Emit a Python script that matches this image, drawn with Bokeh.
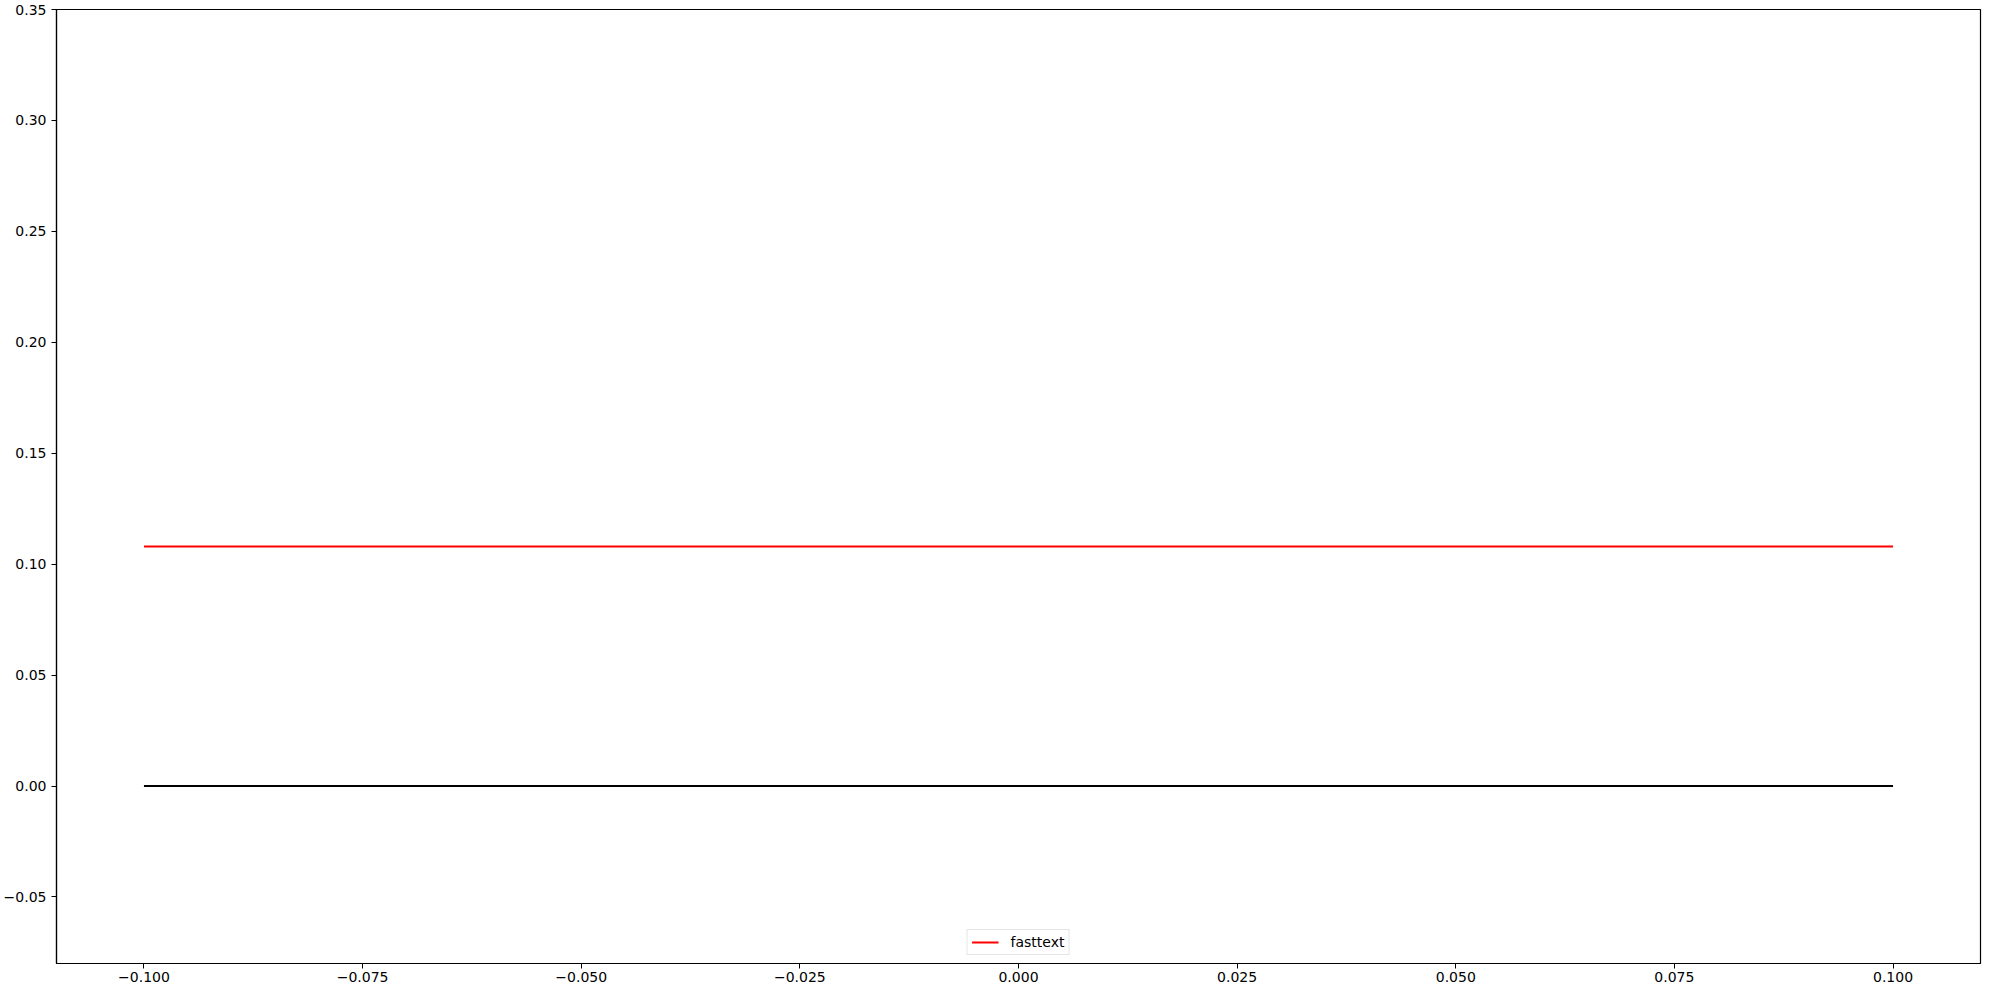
from bokeh.plotting import figure
from bokeh.models import Range1d, FixedTicker, CustomJSTickFormatter, Legend, LegendItem
from bokeh.embed import file_html
from bokeh.resources import INLINE

# data
x_vals = [-0.1, 0.1]
fasttext = [0.108, 0.108]
baseline = [0.0, 0.0]
x_ticks = [-0.1, -0.075, -0.05, -0.025, 0.0, 0.025, 0.05, 0.075, 0.1]
y_ticks = [-0.05, 0.0, 0.05, 0.1, 0.15, 0.2, 0.25, 0.3, 0.35]

FONT = "DejaVu Sans"

p = figure(width=1984, height=984, output_backend="svg", toolbar_location=None,
           x_range=Range1d(-0.11, 0.11), y_range=Range1d(-0.08, 0.35),
           min_border_left=10, min_border_right=4, min_border_top=9, min_border_bottom=4)

p.background_fill_color = "white"
p.border_fill_color = "white"
p.outline_line_color = "black"
p.outline_line_width = 1.2
p.grid.visible = False

r_fast = p.line(x_vals, fasttext, line_color="red", line_width=2)
p.line(x_vals, baseline, line_color="black", line_width=2)

for ax, ticks, digits in ((p.xaxis[0], x_ticks, 3), (p.yaxis[0], y_ticks, 2)):
    ax.ticker = FixedTicker(ticks=ticks, minor_ticks=[])
    ax.formatter = CustomJSTickFormatter(
        code="const v = Math.abs(tick) < 1e-12 ? 0 : tick; return (v < 0 ? '\\u2212' : '') + Math.abs(v).toFixed(%d);" % digits)
    ax.axis_line_color = "black"
    ax.axis_line_width = 1.2
    ax.major_tick_line_color = "black"
    ax.major_tick_in = 0
    ax.major_tick_out = 5
    ax.minor_tick_line_color = None
    ax.major_label_text_font = FONT
    ax.major_label_text_font_size = "14px"
    ax.major_label_text_color = "black"
    ax.major_label_standoff = 5
p.xaxis[0].major_label_standoff = 3

legend = Legend(items=[LegendItem(label="fasttext", renderers=[r_fast])],
                location="bottom_center", orientation="vertical")
legend.label_text_font = FONT
legend.label_text_font_size = "14px"
legend.label_text_color = "black"
legend.glyph_width = 27
legend.glyph_height = 16
legend.label_height = 16
legend.label_standoff = 12
legend.padding = 4
legend.margin = 8
legend.border_line_color = "#cccccc"
legend.border_line_width = 1
legend.background_fill_alpha = 0.8
p.add_layout(legend)

open("out.html", "w").write(file_html(p, INLINE))
